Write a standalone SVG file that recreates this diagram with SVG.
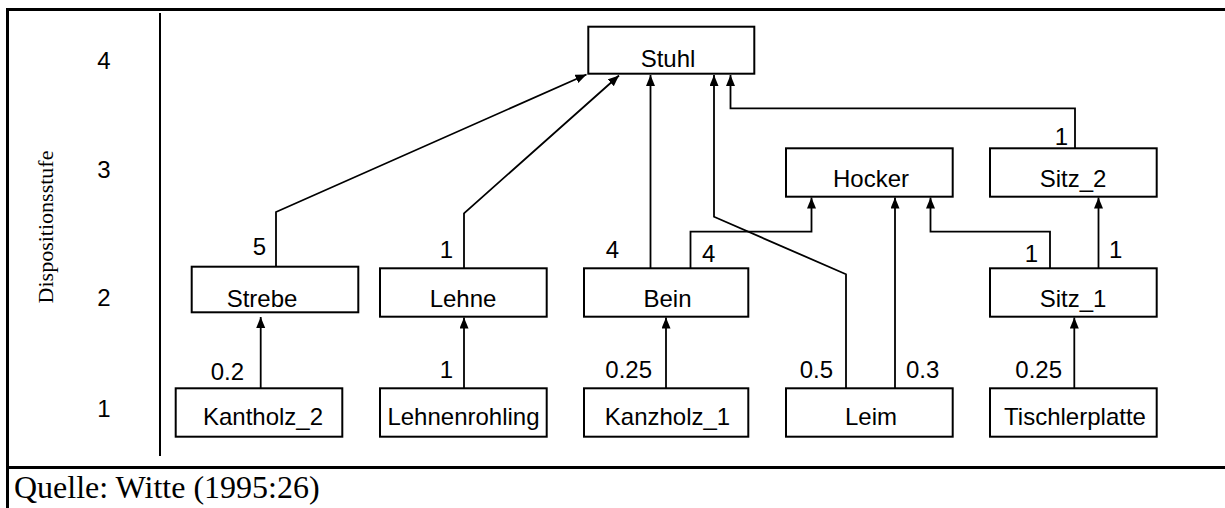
<svg xmlns="http://www.w3.org/2000/svg" width="1225" height="508" viewBox="0 0 1225 508">
  <style>
    .frame { stroke: #000; stroke-width: 3; fill: none; }
    .axis { stroke: #000; stroke-width: 2; fill: none; }
    .box { stroke: #000; stroke-width: 2; fill: #fff; }
    .edge { stroke: #000; stroke-width: 1.8; fill: none; marker-end: url(#arrow); }
    .lbl { font-family: "Liberation Sans", Arial, sans-serif; font-size: 24px; fill: #000; }
    .mid { text-anchor: middle; }
    .end { text-anchor: end; }
    .serif { font-family: "Liberation Serif", "Times New Roman", serif; fill: #000; }
  </style>
  <defs>
    <marker id="arrow" markerUnits="userSpaceOnUse" markerWidth="12" markerHeight="10" refX="11" refY="4.5" orient="auto">
      <path d="M0,0 L11,4.5 L0,9 z" fill="#000"/>
    </marker>
  </defs>
  <rect width="1225" height="508" fill="#fff"/>

  <!-- table frame -->
  <g id="frame">
    <line class="frame" x1="6" y1="9.5" x2="1225" y2="9.5"/>
    <line class="frame" x1="7.5" y1="8" x2="7.5" y2="508"/>
    <line class="frame" x1="6" y1="467.5" x2="1225" y2="467.5"/>
    <line class="axis" x1="160" y1="13" x2="160" y2="456"/>
  </g>

  <!-- level axis -->
  <g id="levels">
    <text class="serif" font-size="22" text-anchor="middle" transform="translate(53,227) rotate(-90)">Dispositionsstufe</text>
    <text class="lbl mid" x="104" y="69">4</text>
    <text class="lbl mid" x="104" y="178">3</text>
    <text class="lbl mid" x="104" y="306">2</text>
    <text class="lbl mid" x="104" y="417">1</text>
  </g>

  <!-- connectors -->
  <g id="connectors">
    <polyline class="edge" points="276,267 276,212 586.5,74.5"/>
    <polyline class="edge" points="464,268.5 464,213.3 619,75.5"/>
    <polyline class="edge" points="650.5,268.5 650.5,75"/>
    <polyline class="edge" points="690.5,268.5 690.5,231.7 811.5,231.7 811.5,197.5"/>
    <polyline class="edge" points="846,388.5 846,274.3 714,216.7 714,75"/>
    <polyline class="edge" points="895,388.5 895,197.5"/>
    <polyline class="edge" points="1050,268.5 1050,231.7 930.5,231.7 930.5,197.5"/>
    <polyline class="edge" points="1098.5,268.5 1098.5,197.5"/>
    <polyline class="edge" points="1075,148.5 1075,108.3 730.5,108.3 730.5,75"/>
    <polyline class="edge" points="260.7,388.5 260.7,317"/>
    <polyline class="edge" points="464,388.5 464,317.5"/>
    <polyline class="edge" points="666,388.5 666,317.5"/>
    <polyline class="edge" points="1074.3,388.5 1074.3,317.5"/>
  </g>

  <!-- quantity labels -->
  <g id="quantities">
    <text class="lbl end" x="266" y="255">5</text>
    <text class="lbl end" x="244" y="380">0.2</text>
    <text class="lbl end" x="453" y="258">1</text>
    <text class="lbl end" x="453" y="378">1</text>
    <text class="lbl end" x="619" y="258">4</text>
    <text class="lbl" x="702" y="262">4</text>
    <text class="lbl end" x="652" y="378">0.25</text>
    <text class="lbl end" x="833" y="378">0.5</text>
    <text class="lbl" x="906" y="378">0.3</text>
    <text class="lbl end" x="1038" y="262">1</text>
    <text class="lbl" x="1109" y="258">1</text>
    <text class="lbl end" x="1062" y="378">0.25</text>
    <text class="lbl end" x="1068" y="145">1</text>
  </g>

  <!-- level 4 -->
  <g id="stuhl">
    <rect class="box" x="588.3" y="26.7" width="166" height="47"/>
    <text class="lbl mid" x="668" y="67">Stuhl</text>
  </g>

  <!-- level 3 -->
  <g id="hocker">
    <rect class="box" x="786" y="148.3" width="166.7" height="48.4"/>
    <text class="lbl mid" x="871" y="187">Hocker</text>
  </g>
  <g id="sitz2">
    <rect class="box" x="990" y="148.3" width="166.7" height="48.4"/>
    <text class="lbl mid" x="1073" y="187">Sitz_2</text>
  </g>

  <!-- level 2 -->
  <g id="strebe">
    <rect class="box" x="191.7" y="266.7" width="166.6" height="45.6"/>
    <text class="lbl mid" x="262" y="307">Strebe</text>
  </g>
  <g id="lehne">
    <rect class="box" x="380" y="268.3" width="166.7" height="48.4"/>
    <text class="lbl mid" x="463" y="307">Lehne</text>
  </g>
  <g id="bein">
    <rect class="box" x="584" y="268.3" width="164.3" height="48.4"/>
    <text class="lbl mid" x="667.5" y="307">Bein</text>
  </g>
  <g id="sitz1">
    <rect class="box" x="990" y="268.3" width="166.7" height="48.4"/>
    <text class="lbl mid" x="1073" y="307">Sitz_1</text>
  </g>

  <!-- level 1 -->
  <g id="kantholz2">
    <rect class="box" x="175.7" y="388.3" width="166.6" height="48.4"/>
    <text class="lbl mid" x="263" y="425">Kantholz_2</text>
  </g>
  <g id="lehnenrohling">
    <rect class="box" x="380" y="388.3" width="166.7" height="48.4"/>
    <text class="lbl mid" x="463.5" y="425">Lehnenrohling</text>
  </g>
  <g id="kanzholz1">
    <rect class="box" x="584" y="388.3" width="164.3" height="48.4"/>
    <text class="lbl mid" x="667.5" y="425">Kanzholz_1</text>
  </g>
  <g id="leim">
    <rect class="box" x="786" y="388.3" width="166.7" height="48.4"/>
    <text class="lbl mid" x="871" y="425">Leim</text>
  </g>
  <g id="tischlerplatte">
    <rect class="box" x="990" y="388.3" width="166.7" height="48.4"/>
    <text class="lbl mid" x="1075" y="425">Tischlerplatte</text>
  </g>

  <!-- source note -->
  <text class="serif" font-size="32" x="14" y="498">Quelle: Witte (1995:26)</text>
</svg>
